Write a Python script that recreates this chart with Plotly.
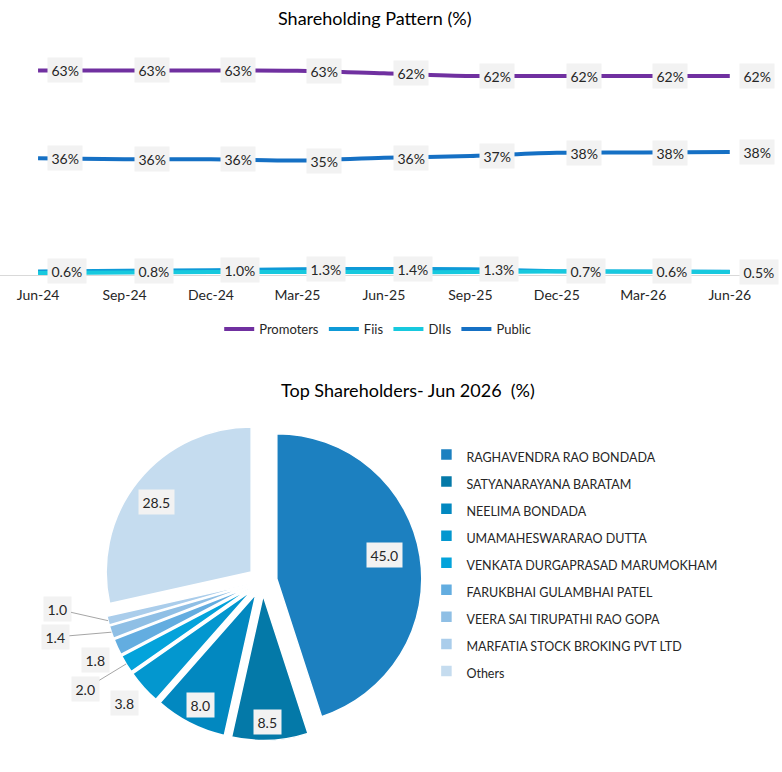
import math
import plotly.graph_objects as go

# ---------------- data ----------------
periods = ["Jun-24", "Sep-24", "Dec-24", "Mar-25", "Jun-25", "Sep-25", "Dec-25", "Mar-26", "Jun-26"]
promoters = [63.3, 63.3, 63.3, 63.2, 62.4, 61.6, 61.6, 61.6, 61.6]
fiis = [0.6, 0.8, 1.0, 1.3, 1.4, 1.3, 0.7, 0.6, 0.5]
diis = [0.1, 0.3, 0.4, 0.4, 0.4, 0.4, 0.6, 0.5, 0.4]
public = [35.9, 35.6, 35.6, 35.2, 36.1, 36.6, 37.6, 37.7, 37.9]

holders = ["RAGHAVENDRA RAO BONDADA", "SATYANARAYANA BARATAM", "NEELIMA BONDADA",
           "UMAMAHESWARARAO DUTTA", "VENKATA DURGAPRASAD MARUMOKHAM",
           "FARUKBHAI GULAMBHAI PATEL", "VEERA SAI TIRUPATHI RAO GOPA",
           "MARFATIA STOCK BROKING PVT LTD", "Others"]
holding = [45.0, 8.5, 8.0, 3.8, 2.0, 1.8, 1.4, 1.0, 28.5]

# ---------------- style ----------------
W, H = 782, 772
FONT = "Lato"
TXT = "#262626"
BOX = "#F2F2F2"
line_colors = {"Promoters": "#7030A0", "Fiis": "#0E9AD7", "DIIs": "#17C9DE", "Public": "#1570C4"}
pie_colors = ["#1C80C0", "#0479A8", "#0288C0", "#0397CF", "#03A3DB",
              "#63ADE0", "#8FBFE5", "#AACDEB", "#C5DCEF"]

fig = go.Figure()

series = [("Promoters", promoters, True, "{:.0f}%"),
          ("Fiis", fiis, True, "{:.1f}%"),
          ("DIIs", diis, False, None),
          ("Public", public, True, "{:.0f}%")]

for name, vals, labelled, fmt in series:
    fig.add_trace(go.Scatter(
        x=periods, y=vals, name=name, mode="lines",
        line=dict(color=line_colors[name], width=4, shape="spline", smoothing=0.8),
        legend="legend", hoverinfo="x+y+name"))

annotations = []
for name, vals, labelled, fmt in series:
    if not labelled:
        continue
    for p, v in zip(periods, vals):
        annotations.append(dict(
            x=p, y=v, xref="x", yref="y", text=fmt.format(v), showarrow=False,
            xanchor="left", yanchor="middle", xshift=9,
            bgcolor=BOX, borderpad=3.5, font=dict(family=FONT, size=14, color=TXT)))

# ---------------- pie ----------------
PIE_DOM_X = [0.1317, 0.5396]
PIE_DOM_Y = [0.0408, 0.454]
PULL = 0.1

legend_labels = ['<span style="font-size:12.5px">%s</span>' % h for h in holders]

fig.add_trace(go.Pie(
    labels=legend_labels, values=holding, sort=False, direction="clockwise", rotation=0,
    pull=[PULL] * len(holding),
    marker=dict(colors=pie_colors, line=dict(color="white", width=1.5)),
    textinfo="none", domain=dict(x=PIE_DOM_X, y=PIE_DOM_Y), legend="legend2",
    hovertext=holders, hoverinfo="text+value"))

pw = W * (PIE_DOM_X[1] - PIE_DOM_X[0])
ph = H * (PIE_DOM_Y[1] - PIE_DOM_Y[0])
r = min(pw, ph) / 2 / (1 + PULL)
cx = W * (PIE_DOM_X[0] + PIE_DOM_X[1]) / 2
cy = H * (1 - PIE_DOM_Y[0]) - ph / 2

# label placement: (radius factor, angle shift in deg, leader line)
LABEL_LAYOUT = [(0.76, -3, False), (0.87, 0.5, False), (0.86, -0.4, False),
                (1.17, 0.4, False), (1.33, 0, True), (1.17, -0.8, False),
                (1.38, 3.6, True), (1.33, 6.6, True), (0.81, -1.9, False)]

total = sum(holding)
cum = 0.0
for v, (f, shift, leader) in zip(holding, LABEL_LAYOUT):
    mid = (cum + v / 2) / total * 360.0
    cum += v
    d = PULL * r + f * r
    a = math.radians(mid + shift)
    lx = cx + d * math.sin(a)
    ly = cy - d * math.cos(a)
    common = dict(text="{:.1f}".format(v), xref="paper", yref="paper",
                  bgcolor=BOX, borderpad=3.5, font=dict(family=FONT, size=14, color=TXT))
    if leader:
        e = PULL * r + r
        am = math.radians(mid)
        ex = cx + e * math.sin(am)
        ey = cy - e * math.cos(am)
        annotations.append(dict(x=ex / W, y=1 - ey / H, showarrow=True, arrowhead=0,
                                arrowwidth=1, arrowcolor="#A6A6A6", standoff=0,
                                ax=lx - ex, ay=ly - ey, **common))
    else:
        annotations.append(dict(x=lx / W, y=1 - ly / H, showarrow=False,
                                xanchor="center", yanchor="middle", **common))

# titles
annotations.append(dict(text="Shareholding Pattern (%)", x=375 / W, y=1 - 18 / H,
                        xref="paper", yref="paper", showarrow=False,
                        xanchor="center", yanchor="middle",
                        font=dict(family=FONT, size=18, color="#000000")))
annotations.append(dict(text="Top Shareholders- Jun 2026  (%)", x=408 / W, y=1 - 390 / H,
                        xref="paper", yref="paper", showarrow=False,
                        xanchor="center", yanchor="middle",
                        font=dict(family=FONT, size=18, color="#000000")))

fig.update_layout(
    width=W, height=H, autosize=False,
    margin=dict(l=0, r=0, t=0, b=0),
    paper_bgcolor="white", plot_bgcolor="white",
    font=dict(family=FONT, color=TXT),
    xaxis=dict(type="category", range=[-0.44, 8.5], domain=[0, 0.9885],
               showline=True, linecolor="#D9D9D9", linewidth=1, showgrid=False,
               zeroline=False, ticks="", ticklabelstandoff=7,
               tickfont=dict(family=FONT, size=14, color=TXT), fixedrange=True),
    yaxis=dict(range=[-0.5, 70], domain=[1 - 275 / H, 1 - 49 / H], visible=False,
               fixedrange=True),
    legend=dict(orientation="h", x=0.483, xanchor="center", y=1 - 314 / H, yanchor="top",
                font=dict(family=FONT, size=13, color=TXT), bgcolor="rgba(0,0,0,0)"),
    legend2=dict(orientation="v", x=0.5453, xanchor="left", y=1 - 436 / H, yanchor="top",
                 font=dict(family=FONT, size=18.5, color=TXT), bgcolor="rgba(0,0,0,0)",
                 tracegroupgap=0, itemwidth=30),
    annotations=annotations,
    showlegend=True,
)

fig.write_html("out.html", config={"displayModeBar": False},
               post_script="document.body.style.margin='0';")
